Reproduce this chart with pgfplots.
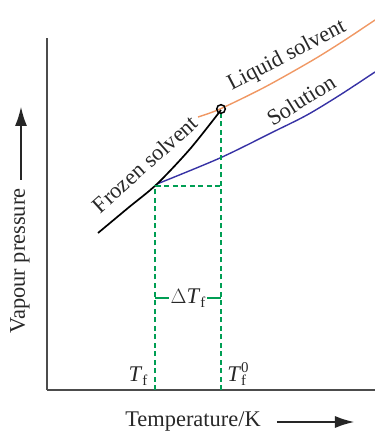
\documentclass[border=0pt]{standalone}
\usepackage{pgfplots}
\pgfplotsset{compat=1.18}
\usetikzlibrary{arrows.meta}
\usepackage{fontspec}
\setmainfont{Liberation Serif}

\definecolor{liqorange}{RGB}{240,152,100}
\definecolor{solblue}{RGB}{55,50,165}
\definecolor{guidegreen}{RGB}{0,158,84}
\definecolor{txt}{RGB}{40,40,40}

\newcommand{\lbl}{\fontsize{22.5}{25}\selectfont}
\newcommand{\sub}{\fontsize{15}{15}\selectfont}

\begin{document}
\begin{tikzpicture}
\begin{axis}[
  x=1bp, y=1bp,
  xmin=47, xmax=375, ymin=41, ymax=393,
  axis x line*=bottom, axis y line*=left,
  axis line style={line width=1.4bp, black!70},
  xtick=\empty, ytick=\empty,
  clip=false,
]
% vapour pressure of the pure liquid solvent
\addplot[liqorange, line width=1.4bp, smooth] coordinates {
  (198,314) (220,322) (265,344) (313,371) (345,391) (375,411)};
% vapour pressure of the solution
\addplot[solblue, line width=1.4bp, smooth] coordinates {
  (157,247) (220,273) (273,299) (307,316) (340,336) (375,359)};
% vapour pressure of the frozen solvent
\addplot[black, line width=1.7bp, smooth] coordinates {
  (98,198) (128,223) (157,247) (190,282) (221,321)};

% guide lines for the freezing points
\addplot[guidegreen, line width=2bp, dash pattern=on 5bp off 3.5bp] coordinates {(155,41) (155,246)};
\addplot[guidegreen, line width=2bp, dash pattern=on 5bp off 3.5bp] coordinates {(221,41) (221,317)};
\addplot[guidegreen, line width=2bp, dash pattern=on 5bp off 3.5bp] coordinates {(156,245) (221,245)};
\addplot[guidegreen, line width=1.6bp] coordinates {(155,133) (169,133)};
\addplot[guidegreen, line width=1.6bp] coordinates {(207,133) (221,133)};

% freezing point of the pure solvent
\addplot[black, only marks, mark=o, mark size=4.3bp,
  mark options={fill=white, line width=1.5bp}] coordinates {(221,322)};

% curve labels
\node[txt, rotate=42] at (axis cs:145,267) {\lbl Frozen solvent};
\node[txt, rotate=27.5] at (axis cs:287,375) {\lbl Liquid solvent};
\node[txt, rotate=32] at (axis cs:301,331) {\lbl Solution};

\node[txt] at (axis cs:188,133) {\lbl $\Delta$\textit{T}\raisebox{-4bp}{\sub f}};
\node[txt] at (axis cs:138,55) {\lbl \textit{T}\raisebox{-4bp}{\sub f}};
\node[txt] at (axis cs:238,57) {\lbl \textit{T}\makebox[0pt][l]{\raisebox{-4bp}{\sub f}}\raisebox{9bp}{\sub 0}};

% axis titles
\node[txt, rotate=90] at (axis cs:20,170) {\lbl Vapour pressure};
\node[txt] at (axis cs:193,10) {\lbl Temperature/K};

\coordinate (ya) at (axis cs:21,251);
\coordinate (yb) at (axis cs:21,324);
\coordinate (xa) at (axis cs:277,9);
\coordinate (xb) at (axis cs:354,9);
\coordinate (bl) at (axis cs:0,0);
\coordinate (tr) at (axis cs:375,431);
\end{axis}
% direction arrows beside the axis titles
\draw[black!85, line width=1.3bp, -{Latex[length=19bp,width=12bp]}] (ya) -- (yb);
\draw[black!85, line width=1.3bp, -{Latex[length=19bp,width=12bp]}] (xa) -- (xb);
\pgfresetboundingbox
\path (bl) rectangle (tr);
\end{tikzpicture}
\end{document}
